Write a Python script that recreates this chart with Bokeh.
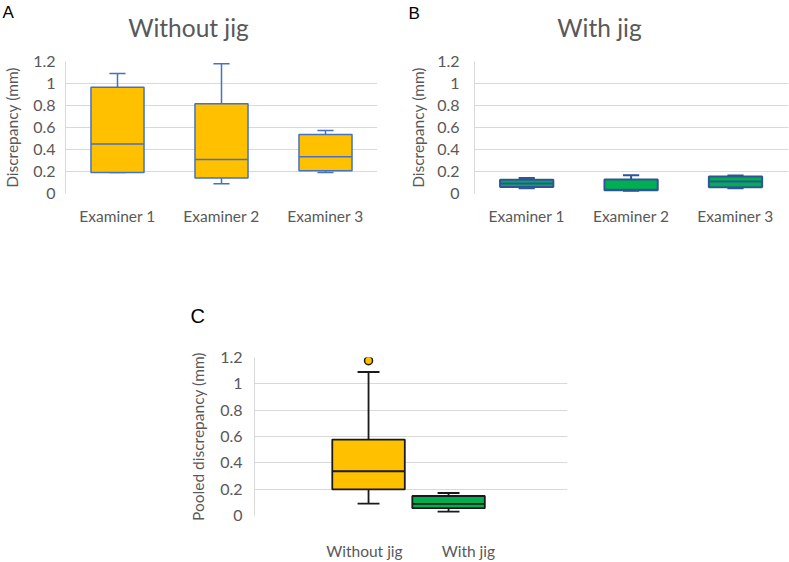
from bokeh.plotting import figure
from bokeh.models import Range1d, FixedTicker, ColumnDataSource
from bokeh.core.properties import value
from bokeh.layouts import row, column
from bokeh.embed import file_html
from bokeh.resources import INLINE

# ---------------- data ----------------
examiners = ["Examiner 1", "Examiner 2", "Examiner 3"]

# Panel A: without jig (min, q1, median, q3, max)
wo_min = [0.19, 0.088, 0.19]
wo_q1 = [0.19, 0.14, 0.206]
wo_med = [0.45, 0.31, 0.333]
wo_q3 = [0.965, 0.815, 0.536]
wo_max = [1.09, 1.18, 0.573]

# Panel B: with jig
wj_min = [0.048, 0.025, 0.048]
wj_q1 = [0.06, 0.03, 0.057]
wj_med = [0.092, 0.035, 0.109]
wj_q3 = [0.124, 0.127, 0.155]
wj_max = [0.141, 0.166, 0.164]

# Panel C: pooled
pooled_groups = ["Without jig", "With jig"]
pooled_min = [0.09, 0.03]
pooled_q1 = [0.198, 0.056]
pooled_med = [0.336, 0.088]
pooled_q3 = [0.577, 0.148]
pooled_max = [1.09, 0.171]
pooled_outlier_group = [0]
pooled_outlier = [1.176]

y_ticks = [0, 0.2, 0.4, 0.6, 0.8, 1.0, 1.2]
y_tick_labels = ["0", "0.2", "0.4", "0.6", "0.8", "1", "1.2"]

panel_titles = ["Without jig", "With jig"]
panel_letters = ["A", "B"]

# ---------------- style / layout ----------------
FONT = "Lato"
LETTER_FONT = "Liberation Sans"
GRAY = "#595959"
GRID = "#D9D9D9"
ORANGE = "#FFC000"
GREEN = "#00B050"

exam_pos = [1, 2, 3]
pooled_pos = [1.093, 1.86]
pooled_label_pos = [1.054, 2.05]

W = 789
HEADER1_H = 46
HEADER2_H = 80
title_x = [188, 599]
title_y = 27
letter_x = [2, 408]
letter_y = [12, 13]
letterC_x = 190
letterC_y = 65


def make_header(height):
    h = figure(width=W, height=height, x_range=Range1d(0, W), y_range=Range1d(height, 0),
               output_backend="svg", toolbar_location=None,
               min_border_left=0, min_border_right=0, min_border_top=0, min_border_bottom=0,
               x_axis_type=None, y_axis_type=None)
    h.grid.visible = False
    h.outline_line_color = None
    h.background_fill_color = "white"
    h.border_fill_color = "white"
    return h


def make_fig(width, height, left, right, top, bottom, x_range, ylabel,
             label_standoff, title_standoff):
    p = figure(width=width, height=height, x_range=x_range, y_range=Range1d(0, 1.2),
               output_backend="svg", toolbar_location=None,
               min_border_left=left, min_border_right=right,
               min_border_top=top, min_border_bottom=bottom)
    p.outline_line_color = None
    p.background_fill_color = "white"
    p.border_fill_color = "white"
    p.xgrid.visible = False
    p.ygrid.grid_line_color = GRID
    p.ygrid.grid_line_width = 1
    p.ygrid.ticker = FixedTicker(ticks=y_ticks)
    ya = p.yaxis[0]
    ya.ticker = FixedTicker(ticks=y_ticks)
    ya.major_label_overrides = dict(zip(y_ticks, y_tick_labels))
    ya.axis_line_color = GRID
    ya.major_tick_line_color = None
    ya.minor_tick_line_color = None
    ya.major_tick_out = 0
    ya.major_tick_in = 0
    ya.minor_tick_out = 0
    ya.minor_tick_in = 0
    ya.major_label_standoff = label_standoff
    ya.major_label_text_font = FONT
    ya.major_label_text_font_size = "16px"
    ya.major_label_text_color = GRAY
    ya.axis_label = ylabel
    ya.axis_label_text_font = FONT
    ya.axis_label_text_font_size = "15.5px"
    ya.axis_label_text_font_style = "normal"
    ya.axis_label_text_color = GRAY
    ya.axis_label_standoff = title_standoff
    xa = p.xaxis[0]
    xa.axis_line_color = None
    xa.major_tick_line_color = None
    xa.minor_tick_line_color = None
    xa.major_tick_out = 0
    xa.major_tick_in = 0
    xa.minor_tick_out = 0
    xa.minor_tick_in = 0
    xa.major_label_text_font = FONT
    xa.major_label_text_font_size = "15.5px"
    xa.major_label_text_color = GRAY
    return p


def draw_boxes(p, xs, mins, q1s, meds, q3s, maxs, fill, line, lw, box_w, cap_w):
    src = ColumnDataSource(dict(
        x=xs, lo=mins, q1=q1s, med=meds, q3=q3s, hi=maxs,
        cl=[x - cap_w / 2 for x in xs], cr=[x + cap_w / 2 for x in xs],
        bl=[x - box_w / 2 for x in xs], br=[x + box_w / 2 for x in xs]))
    p.segment(x0="x", y0="q3", x1="x", y1="hi", source=src, line_color=line, line_width=lw)
    p.segment(x0="x", y0="lo", x1="x", y1="q1", source=src, line_color=line, line_width=lw)
    p.segment(x0="cl", y0="hi", x1="cr", y1="hi", source=src, line_color=line, line_width=lw)
    p.segment(x0="cl", y0="lo", x1="cr", y1="lo", source=src, line_color=line, line_width=lw)
    p.vbar(x="x", width=box_w, bottom="q1", top="q3", source=src,
           fill_color=fill, line_color=line, line_width=lw)
    p.segment(x0="bl", y0="med", x1="br", y1="med", source=src, line_color=line, line_width=lw)


# ---------- header with panel letters and titles ----------
header1 = make_header(HEADER1_H)
header1.text(x=letter_x, y=letter_y, text=panel_letters, text_font=value(LETTER_FONT),
             text_font_size=value("17px"), text_color="black", text_align="left",
             text_baseline="alphabetic")
header1.text(x=title_x, y=[title_y] * 2, text=panel_titles, text_font=value(FONT),
             text_font_size=value("24.5px"), text_color=GRAY, text_align="center",
             text_baseline="alphabetic")

# ---------- Panel A ----------
rowH = 250 - HEADER1_H
topAB = 61 - HEADER1_H
pA = make_fig(395, rowH, 64, 18, topAB, rowH - topAB - 132,
              Range1d(0.5, 3.5), "Discrepancy (mm)", 10, 9)
pA.xaxis[0].ticker = FixedTicker(ticks=exam_pos)
pA.xaxis[0].major_label_overrides = dict(zip(exam_pos, examiners))
pA.xaxis[0].major_label_standoff = 13
draw_boxes(pA, exam_pos, wo_min, wo_q1, wo_med, wo_q3, wo_max, ORANGE, "#4472C4", 1.5, 0.51, 0.155)

# ---------- Panel B ----------
pB = make_fig(394, rowH, 79, 1, topAB, rowH - topAB - 132,
              Range1d(0.5, 0.5 + 314 / 104.4), "Discrepancy (mm)", 15, 7)
pB.xaxis[0].ticker = FixedTicker(ticks=exam_pos)
pB.xaxis[0].major_label_overrides = dict(zip(exam_pos, examiners))
pB.xaxis[0].major_label_standoff = 13
draw_boxes(pB, exam_pos, wj_min, wj_q1, wj_med, wj_q3, wj_max, GREEN, "#2F5597", 2, 0.51, 0.155)

# ---------- header for panel C ----------
header2 = make_header(HEADER2_H)
header2.text(x=[letterC_x], y=[letterC_y], text=["C"], text_font=value(LETTER_FONT),
             text_font_size=value("20px"), text_color="black", text_align="left",
             text_baseline="alphabetic")

# ---------- Panel C ----------
cH = 562 - 250 - HEADER2_H
cTop = 357 - 250 - HEADER2_H
pC = make_fig(W, cH, 254, 222, cTop, cH - cTop - 160, Range1d(0, 3),
              "Pooled discrepancy (mm)", 12, 10)
pC.xaxis[0].ticker = FixedTicker(ticks=pooled_label_pos)
pC.xaxis[0].major_label_overrides = dict(zip(pooled_label_pos, pooled_groups))
pC.xaxis[0].major_label_standoff = 26
draw_boxes(pC, pooled_pos[:1], pooled_min[:1], pooled_q1[:1], pooled_med[:1], pooled_q3[:1],
           pooled_max[:1], ORANGE, "#1a1a1a", 1.8, 0.695, 0.21)
draw_boxes(pC, pooled_pos[1:], pooled_min[1:], pooled_q1[1:], pooled_med[1:], pooled_q3[1:],
           pooled_max[1:], GREEN, "#1a1a1a", 1.8, 0.695, 0.21)
pC.scatter(x=[pooled_pos[i] for i in pooled_outlier_group], y=pooled_outlier, size=8,
           fill_color=ORANGE, line_color="#1a1a1a", line_width=1.5)

layout = column(row(header1, spacing=0), row(pA, pB, spacing=0),
                row(header2, spacing=0), row(pC, spacing=0), spacing=0)

open("out.html", "w").write(file_html(layout, INLINE))
